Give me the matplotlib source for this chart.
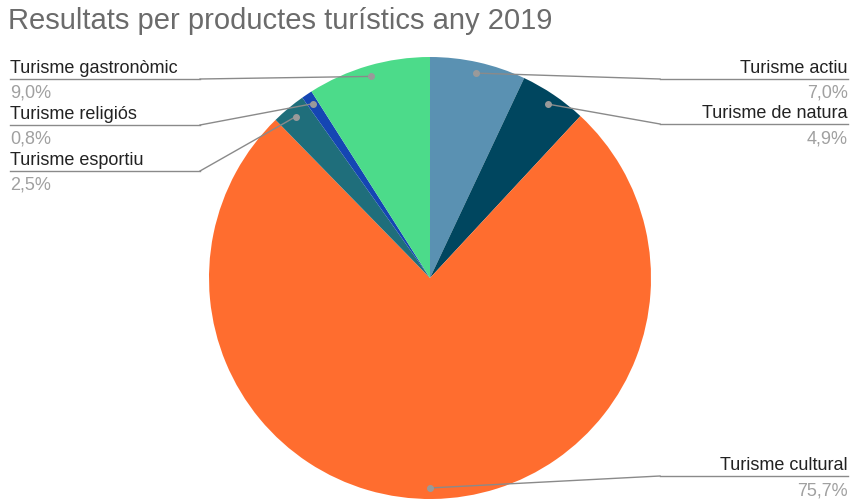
import numpy as np
import matplotlib.pyplot as plt

plt.rcParams["font.family"] = ["Liberation Sans", "DejaVu Sans"]

# ── DATA ─────────────────────────────────────────────────────
categories = ["Turisme actiu", "Turisme de natura", "Turisme cultural",
              "Turisme esportiu", "Turisme religiós", "Turisme gastronòmic"]
shares = [7.0, 4.9, 75.7, 2.5, 0.8, 9.0]
pct_labels = ["7,0%", "4,9%", "75,7%", "2,5%", "0,8%", "9,0%"]
colors = ["#5a91b2", "#00465f", "#ff6d2f", "#1f6e7b", "#1546b3", "#4cdb8a"]

title = "Resultats per productes turístics any 2019"

# label layout (pixels from the top-left): side, baseline of the name
label_side = ["right", "right", "right", "left", "left", "left"]
label_base = [73, 118, 470, 165, 119, 73]

W, H = 850, 500
cx, cy, R = 430, 278, 221

fig = plt.figure(figsize=(8.5, 5), dpi=100)
ax = fig.add_axes([0, 0, 1, 1])

wedges, _ = ax.pie(shares, colors=colors, startangle=90, counterclock=False,
                   center=(cx, H - cy), radius=R,
                   wedgeprops=dict(linewidth=0))
ax.set_xlim(0, W)
ax.set_ylim(0, H)
ax.set_aspect("equal")
ax.axis("off")

fig.text(8 / W, 1 - 21 / H, title, fontsize=21, color="#6b6b6b",
         ha="left", va="center")

line_c = "#8a8a8a"
for i, w in enumerate(wedges):
    mid = np.deg2rad((w.theta1 + w.theta2) / 2)
    if categories[i] == "Turisme cultural":
        mid = np.deg2rad(-90)  # anchor sits at the bottom of the big slice
    dx = cx + 0.95 * R * np.cos(mid)
    dy = (H - cy) + 0.95 * R * np.sin(mid)

    base = H - label_base[i]
    under = base - 6
    if label_side[i] == "left":
        tx, ha, x0, x1 = 10, "left", 10, 200
        knee = x1
    else:
        tx, ha, x0, x1 = 848, "right", 660, 848
        knee = x0
    ax.plot([x0, x1], [under, under], color=line_c, lw=1, zorder=3)
    ax.plot([knee, dx], [under, dy], color=line_c, lw=1, zorder=3)
    ax.plot(dx, dy, "o", color="#9a9a9a", ms=4, zorder=4)

    ax.text(tx, base, categories[i], fontsize=13, color="#222222",
            ha=ha, va="baseline")
    ax.text(tx, base - 25, pct_labels[i], fontsize=13, color="#a0a0a0",
            ha=ha, va="baseline")

fig.savefig("out.png", dpi=100)
